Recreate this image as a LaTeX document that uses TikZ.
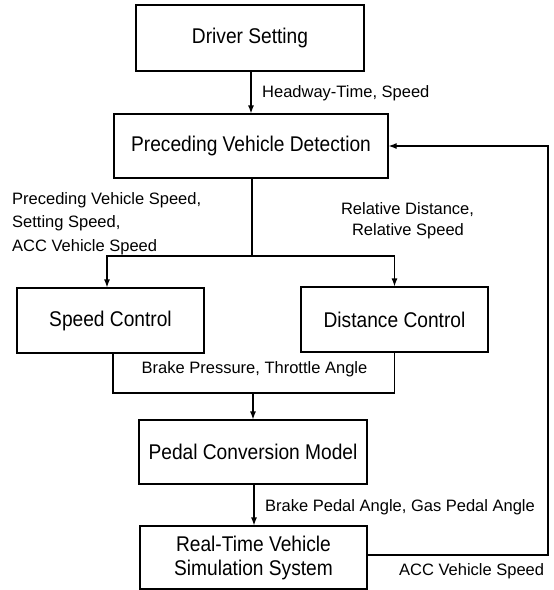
\documentclass[tikz,border=0pt]{standalone}
\usepackage{fontspec}
\setmainfont{Liberation Sans}
\newfontfamily\boxfont[FakeStretch=0.9]{Liberation Sans}
\usetikzlibrary{arrows.meta,calc}

\tikzset{
  blk/.style={draw, line width=1.2pt, inner sep=0pt, align=center,
    font=\boxfont\fontsize{21.3}{24}\selectfont},
  lbl/.style={inner sep=0pt, font=\fontsize{16.5}{20}\selectfont},
  wire/.style={line width=1.2pt},
  flow/.style={wire, -{Latex[length=8pt,width=6pt]}}
}

\begin{document}
\begin{tikzpicture}[x=1pt, y=-1pt]
  \useasboundingbox (0,0) rectangle (554,590);

  % blocks
  \node[blk, minimum width=228pt, minimum height=66pt] (drv) at (250,38) {Driver Setting};
  \node[blk, minimum width=274pt, minimum height=64pt] (pvd) at (251,146) {Preceding Vehicle Detection};
  \node[blk, minimum width=187pt, minimum height=65pt] (spd) at (110.5,320.5) {Speed Control};
  \node[blk, minimum width=187pt, minimum height=65pt] (dst) at (394.5,319.5) {Distance Control};
  \node[blk, minimum width=228pt, minimum height=64pt] (pcm) at (253,452) {Pedal Conversion Model};
  \node[blk, minimum width=227pt, minimum height=63pt] (rts) at (253.5,557.5) {Real-Time Vehicle\\Simulation System};

  % junction points
  \coordinate (split) at (252,256);
  \coordinate (merge) at (253,393);
  \coordinate (fbcorner1) at (548,555);
  \coordinate (fbcorner2) at (548,146);

  % connectors
  \draw[flow] (drv.south -| 251,0) -- (pvd.north -| 251,0);
  \draw[wire] (pvd.south -| split) -- (split);
  \draw[flow] (split) -| ($(spd.north)+(-3.5,0)$);
  \draw[flow] (split) -| (dst.north);
  \draw[wire] ($(spd.south)+(2.5,0)$) |- (merge) -| (dst.south);
  \draw[flow] (merge) -- (pcm.north -| merge);
  \draw[flow] (pcm.south -| 254,0) -- (rts.north -| 254,0);
  \draw[flow] (rts.east |- fbcorner1) -- (fbcorner1) -- (fbcorner2) -- (pvd.east);

  % signal labels
  \node[lbl, anchor=base west] (l1) at (262,97) {Headway-Time, Speed};
  \node[lbl, anchor=base west] (l2a) at (12,204) {Preceding Vehicle Speed,};
  \node[lbl, anchor=base west] (l2b) at (12,227) {Setting Speed,};
  \node[lbl, anchor=base west] (l2c) at (12,251) {ACC Vehicle Speed};
  \node[lbl, anchor=base] (l3a) at (407.5,214) {Relative Distance,};
  \node[lbl, anchor=base] (l3b) at (408,235) {Relative Speed};
  \node[lbl, anchor=base] (l4) at (254.5,373) {Brake Pressure, Throttle Angle};
  \node[lbl, anchor=base west] (l5) at (265,511) {Brake Pedal Angle, Gas Pedal Angle};
  \node[lbl, anchor=base west] (l6) at (399,575) {ACC Vehicle Speed};
\end{tikzpicture}
\end{document}
